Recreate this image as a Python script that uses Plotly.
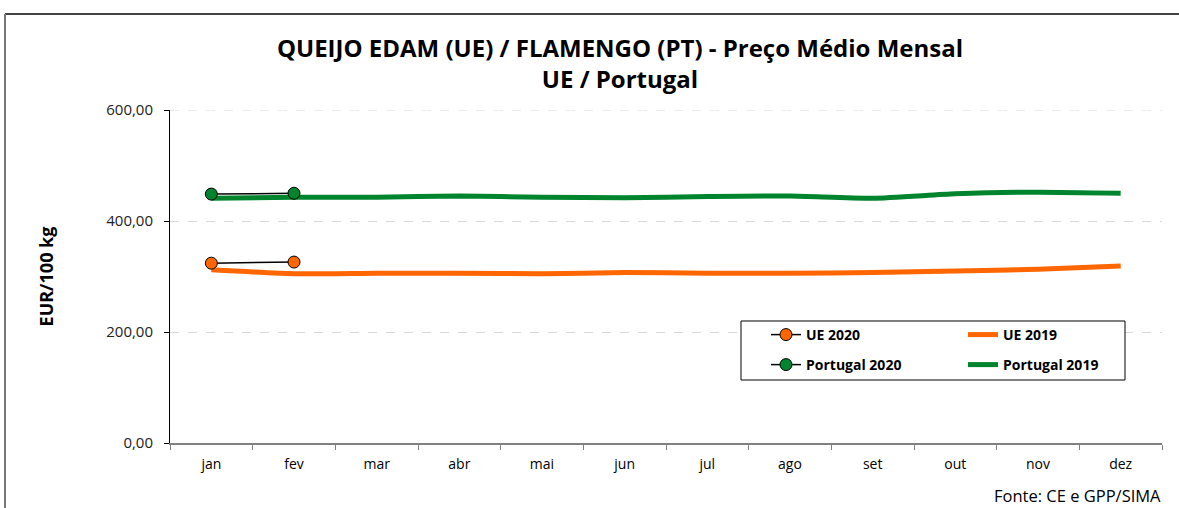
import plotly.graph_objects as go

months = ["jan", "fev", "mar", "abr", "mai", "jun", "jul", "ago", "set", "out", "nov", "dez"]
ue_2020 = [324.0, 326.0]
ue_2019 = [312.0, 305.0, 306.0, 306.0, 305.0, 307.0, 306.0, 306.0, 307.0, 310.0, 313.0, 319.0]
pt_2020 = [448.5, 450.0]
pt_2019 = [441.0, 443.0, 443.0, 445.0, 443.0, 442.0, 444.0, 445.0, 441.0, 449.0, 452.0, 450.0]
y_ticks = [0, 200, 400, 600]

ORANGE = "#FF6600"
GREEN = "#00852E"
FONT = "Open Sans"

W, H = 1179, 508
L, R, T, B = 170, 1162, 110, 443  # plot area in pixels

def px(x):
    return (x - L) / (R - L)

def py(y):
    return (B - y) / (B - T)

fig = go.Figure()
fig.add_trace(go.Scatter(x=months, y=ue_2019, name="UE 2019", mode="lines",
                         line=dict(color=ORANGE, width=5, shape="spline", smoothing=0.6),
                         legend="legend2"))
fig.add_trace(go.Scatter(x=months, y=pt_2019, name="Portugal 2019", mode="lines",
                         line=dict(color=GREEN, width=5, shape="spline", smoothing=0.6),
                         legend="legend4"))
fig.add_trace(go.Scatter(x=months[:len(ue_2020)], y=ue_2020, name="UE 2020", mode="lines+markers",
                         line=dict(color="black", width=1.5),
                         marker=dict(color=ORANGE, size=12, line=dict(color="black", width=1)),
                         legend="legend"))
fig.add_trace(go.Scatter(x=months[:len(pt_2020)], y=pt_2020, name="Portugal 2020", mode="lines+markers",
                         line=dict(color="black", width=1.5),
                         marker=dict(color=GREEN, size=12, line=dict(color="black", width=1)),
                         legend="legend3"))

leg_common = dict(bgcolor="rgba(0,0,0,0)", borderwidth=0,
                  font=dict(family=FONT, size=14, color="black", weight="bold"),
                  xanchor="left", yanchor="middle", itemwidth=30, tracegroupgap=0)

fig.update_layout(
    width=W, height=H,
    margin=dict(l=L, r=W - R, t=T, b=H - B),
    paper_bgcolor="white", plot_bgcolor="white",
    separators=",.",
    font=dict(family=FONT, color="black"),
    showlegend=True,
    title=dict(text="QUEIJO EDAM (UE) / FLAMENGO (PT) - Preço Médio Mensal<br>UE / Portugal",
               x=px(620), xref="paper", xanchor="center",
               y=1 - 57 / H, yref="container", yanchor="middle",
               font=dict(family=FONT, size=24, color="black", weight="bold")),
    xaxis=dict(type="category", range=[-0.5, 11.5], showgrid=False,
               showline=True, linecolor="#808080", linewidth=1.5,
               ticks="outside", tickson="boundaries", ticklen=5, tickcolor="#808080",
               ticklabelstandoff=7,
               tickfont=dict(family=FONT, size=14, color="black"), zeroline=False),
    yaxis=dict(range=[0, 600], tickvals=y_ticks, tickformat=".2f",
               showgrid=True, gridcolor="#D9D9D9", griddash="dash", gridwidth=1,
               showline=True, linecolor="black", linewidth=1,
               ticks="outside", ticklen=5, tickcolor="black",
               ticklabelstandoff=8,
               tickfont=dict(family=FONT, size=15, color="#222"), zeroline=False,
               title=dict(text="EUR/100 kg", standoff=47,
                          font=dict(family=FONT, size=18, color="black", weight="bold"))),
    legend=dict(x=px(766), y=py(335), **leg_common),
    legend2=dict(x=px(963), y=py(335), **leg_common),
    legend3=dict(x=px(766), y=py(365), **leg_common),
    legend4=dict(x=px(963), y=py(365), **leg_common),
    shapes=[
        dict(type="line", xref="paper", yref="y", x0=0, x1=1, y0=600, y1=600,
             line=dict(color="#D9D9D9", width=1, dash="dash"), layer="below"),
        dict(type="rect", xref="paper", yref="paper", x0=px(741), x1=px(1125), y0=py(380), y1=py(321),
             line=dict(color="black", width=1), fillcolor="white", layer="above"),
        dict(type="line", xref="paper", yref="paper", x0=px(5), x1=px(1180), y0=py(14), y1=py(14),
             line=dict(color="#444", width=2)),
        dict(type="line", xref="paper", yref="paper", x0=px(5), x1=px(5), y0=py(14), y1=py(510),
             line=dict(color="#777", width=2)),
    ],
    annotations=[
        dict(text="Fonte: CE e GPP/SIMA", xref="paper", yref="paper", x=px(1163), y=py(495),
             xanchor="right", yanchor="middle", showarrow=False,
             font=dict(family=FONT, size=16.5, color="black")),
    ],
)

fig.write_html("out.html", config={"displayModeBar": False},
               post_script="document.body.style.margin='0';")
